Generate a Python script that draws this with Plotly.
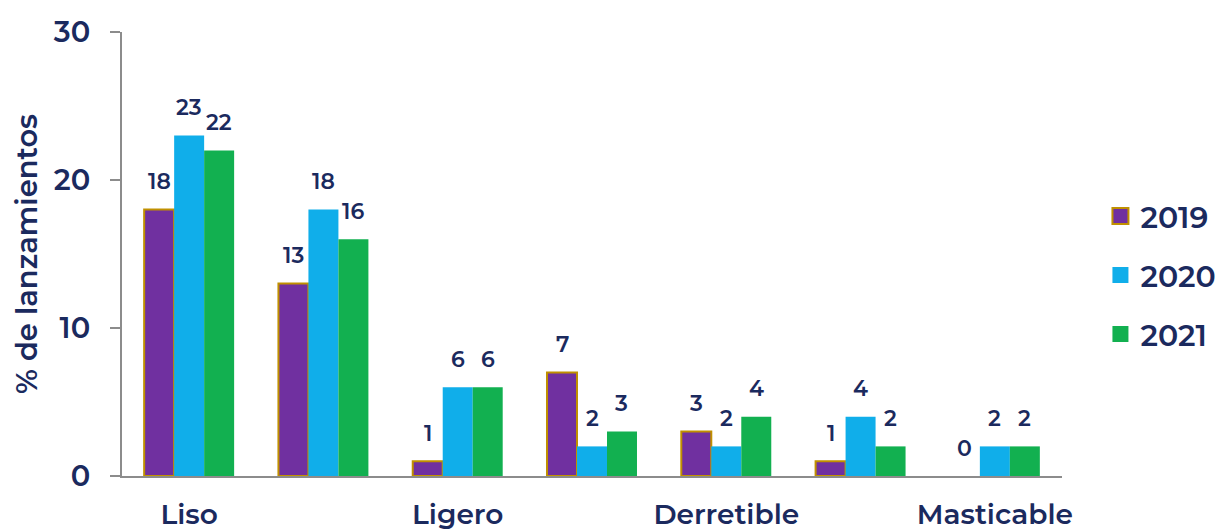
import plotly.graph_objects as go

tick_labels = ["Liso", "Ligero", "Derretible", "Masticable"]
tick_positions = [0, 2, 4, 6]
n_categories = 7
years = ["2019", "2020", "2021"]
values_2019 = [18, 13, 1, 7, 3, 1, 0]
values_2020 = [23, 18, 6, 2, 2, 4, 2]
values_2021 = [22, 16, 6, 3, 4, 2, 2]

series = [values_2019, values_2020, values_2021]
colors = ["#7030a0", "#10aeea", "#12b050"]
outline_2019 = "#c09000"
navy = "#1b2a5e"
font_family = "Montserrat, 'Noto Sans', 'Open Sans', sans-serif"

x = list(range(n_categories))
fig = go.Figure()
for i, (yr, vals, col) in enumerate(zip(years, series, colors)):
    if i == 0:
        line = dict(color=outline_2019, width=[2 if v > 0 else 0 for v in vals])
    else:
        line = dict(color=col, width=0)
    fig.add_trace(go.Bar(
        x=x, y=vals, name=yr, showlegend=False,
        marker=dict(color=col, line=line),
        hoverinfo="skip",
    ))

# legend entries with larger square swatches
for i, (yr, col) in enumerate(zip(years, colors)):
    fig.add_trace(go.Scatter(
        x=[None], y=[None], name=yr, mode="markers", legendgroup=yr,
        marker=dict(symbol="square", size=17, color=col,
                    line=dict(color=outline_2019 if i == 0 else col, width=2 if i == 0 else 0)),
        hoverinfo="skip",
    ))

bargap = 0.33
bar_w = (1 - bargap) / 3
annotations = []
for i, vals in enumerate(series):
    off = (i - 1) * bar_w
    for xi, v in zip(x, vals):
        annotations.append(dict(
            x=xi + off, y=v, text=str(v), showarrow=False,
            xref="x", yref="y", yshift=28,
            font=dict(size=22, color=navy, family=font_family, weight=600),
        ))

fig.update_layout(
    width=1220, height=530,
    margin=dict(l=122, r=158, t=32, b=54),
    paper_bgcolor="white", plot_bgcolor="white",
    barmode="group", bargap=bargap, bargroupgap=0,
    font=dict(family=font_family, color=navy, weight=600),
    annotations=annotations,
    legend=dict(xref="container", yref="container", x=0.902, y=0.481,
                xanchor="left", yanchor="middle",
                font=dict(size=30, color=navy, weight=600), tracegroupgap=17,
                itemwidth=30),
    xaxis=dict(range=[-0.5, 6.5], tickvals=tick_positions, ticktext=tick_labels,
               showline=True, linecolor="#8c8c8c", linewidth=2, ticks="",
               tickfont=dict(size=28, color=navy, weight=600), ticklabelstandoff=12,
               showgrid=False, zeroline=False, automargin=False),
    yaxis=dict(range=[0, 30], tickvals=[0, 10, 20, 30],
               showline=True, linecolor="#8c8c8c", linewidth=2,
               ticks="outside", ticklen=10, tickcolor="#8c8c8c", tickwidth=2,
               tickfont=dict(size=29, color=navy, weight=600), ticklabelstandoff=14,
               showgrid=False, zeroline=False, automargin=False,
               title=dict(text="% de lanzamientos", font=dict(size=29, color=navy, weight=600), standoff=8)),
)

fig.write_html("out.html")
